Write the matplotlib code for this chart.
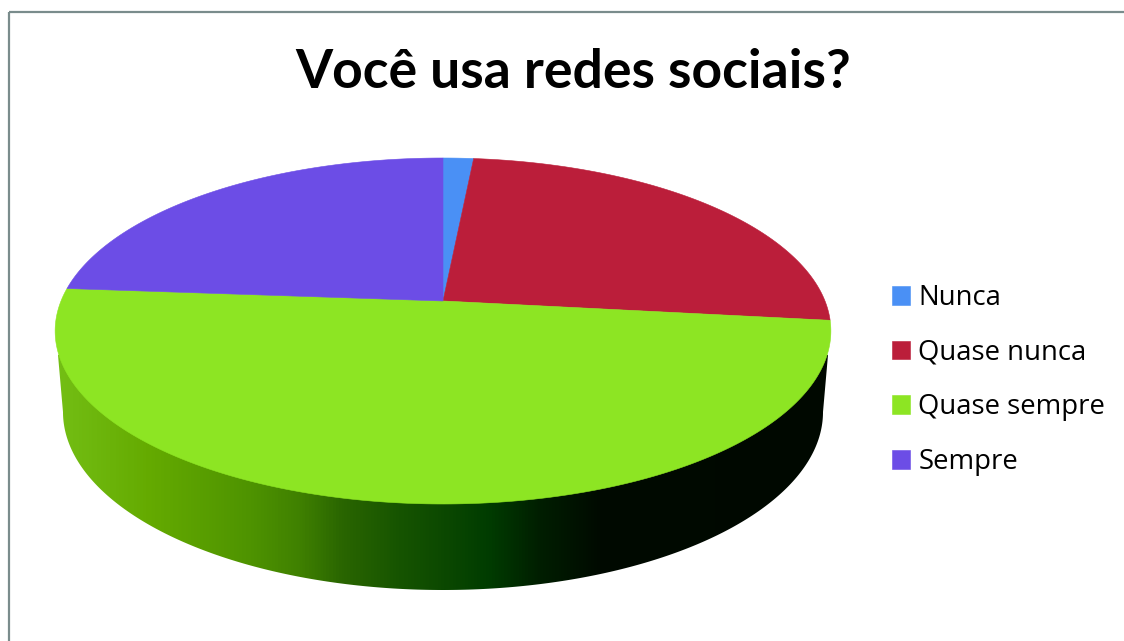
import numpy as np
import matplotlib
matplotlib.use("Agg")
import matplotlib.pyplot as plt
from matplotlib.patches import Polygon, Rectangle
from matplotlib.colors import LinearSegmentedColormap

TITLE = "Você usa redes sociais?"
categories = ["Nunca", "Quase nunca", "Quase sempre", "Sempre"]
shares = [1.5, 25.3, 49.4, 23.8]
colors = ["#4A90F5", "#BB1E3A", "#8DE523", "#6C4DE6"]

# Shading of the rim, left to right along the pie
rim_stops = [58, 150, 250, 300, 340, 400, 490, 540, 600, 830]
rim_colors = ["#73BE14", "#64AA00", "#4E9300", "#3F8000", "#2A6600",
              "#165400", "#003C00", "#001E00", "#000A00", "#000800"]

W, H = 1124, 641
CX, APEX_Y = 443, 301
TILT = 0.1734
SCALE_X, SCALE_Y = 382, 167.8


def project(x, y):
    """Perspective projection of the unit-circle pie onto the canvas."""
    w = 1 + TILT * y
    return CX + SCALE_X * x / w, APEX_Y - SCALE_Y * y / w


fig = plt.figure(figsize=(W / 100, H / 100), dpi=100, facecolor="white")
ax = fig.add_axes([0, 0, 1, 1])

wedges, _ = ax.pie(shares, startangle=90, counterclock=False, radius=1)
ax.set_aspect("auto")
ax.axis("off")

# Outer frame, open past the right and bottom edges
ax.set_xlim(0, W)
ax.set_ylim(H, 0)
ax.add_patch(Rectangle((9, 12), W, H, fill=False, edgecolor="#7A8C8C", lw=1.6))

# Rim: a horizontal gradient clipped to the extruded outline
t = np.radians(np.linspace(0, 180, 300))
bottom_x = CX + 380 * np.cos(t)
bottom_y = 412 + 178 * np.sin(t)
outline = np.vstack([
    np.column_stack([bottom_x, bottom_y]),
    [[58, 355], [CX, 340], [828, 355]],
])
rim_patch = Polygon(outline, closed=True, facecolor="none", edgecolor="none")
ax.add_patch(rim_patch)
stops = (np.array(rim_stops) - rim_stops[0]) / (rim_stops[-1] - rim_stops[0])
cmap = LinearSegmentedColormap.from_list("rim", list(zip(stops, rim_colors)))
img = ax.imshow(np.linspace(0, 1, 800)[None, :], cmap=cmap, aspect="auto",
                extent=(rim_stops[0], rim_stops[-1], 600, 340), zorder=1.5)
img.set_clip_path(rim_patch)
ax.set_xlim(0, W)
ax.set_ylim(H, 0)

# Top face: each slice keeps the angles computed by pie, in perspective
handles = []
for wedge, col, name in zip(wedges, colors, categories):
    theta = np.radians(np.linspace(wedge.theta1, wedge.theta2, 240))
    px, py = project(np.r_[0, np.cos(theta)], np.r_[0, np.sin(theta)])
    wedge.remove()
    face = Polygon(np.column_stack([px, py]), closed=True, facecolor=col,
                   edgecolor=col, lw=0.4, zorder=3, label=name)
    ax.add_patch(face)
    handles.append(face)

ax.text(573, 72, TITLE, ha="center", va="center", fontsize=38.5,
        fontweight="bold", family="Lato", color="black")

leg = ax.legend(handles=handles, loc="upper left", bbox_to_anchor=(892, 284),
                bbox_transform=ax.transData, frameon=False, borderpad=0,
                borderaxespad=0, labelspacing=0.97,
                handlelength=0.66, handleheight=0.66, handletextpad=0.3,
                prop={"family": "Open Sans", "size": 19.8})

fig.savefig("out.png", dpi=100, facecolor="white")
